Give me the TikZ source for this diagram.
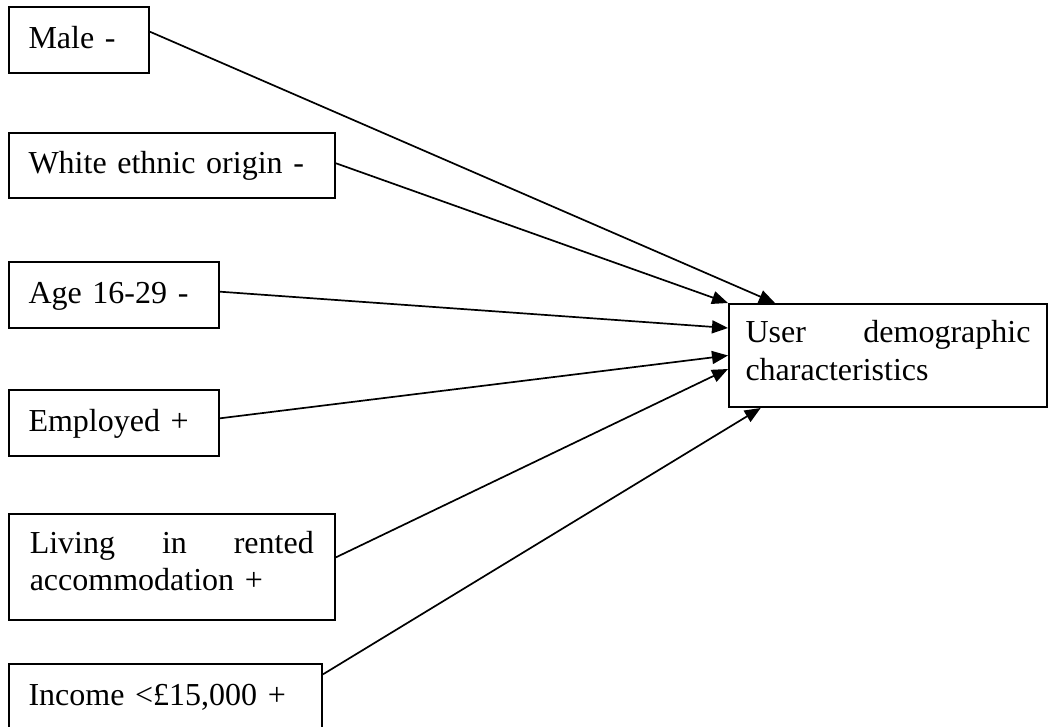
\documentclass[tikz,border=0pt]{standalone}
\usepackage{fontspec}
\setmainfont{Liberation Serif}
\usetikzlibrary{arrows.meta}
\begin{document}
\begin{tikzpicture}[x=1pt,y=-1pt,
  box/.style={draw, line width=2pt, rectangle, inner xsep=20pt, inner ysep=0pt,
    align=left, font=\fontsize{32}{37.5}\selectfont},
  oneline/.style={text height=22pt, text depth=6pt},
  conn/.style={line width=1.7pt, -{Triangle[length=16pt,width=13pt]}}]
\useasboundingbox (0,0) rectangle (1048,727);
\node[box, oneline, minimum width=140.5pt, minimum height=65.5pt, text width=100.5pt] (male) at (78.75,40.25) {Male -};
\node[box, oneline, minimum width=326.5pt, minimum height=65pt, text width=286.5pt] (white) at (171.75,165.5) {White ethnic origin -};
\node[box, oneline, minimum width=210.5pt, minimum height=66pt, text width=170.5pt] (age) at (113.75,295) {Age 16-29 -};
\node[box, oneline, minimum width=210.5pt, minimum height=66pt, text width=170.5pt] (employed) at (113.75,423) {Employed +};
\node[box, minimum width=326.5pt, minimum height=106pt, text width=284pt] (living) at (171.75,567) {Living\hfill in\hfill rented\\accommodation +\rule[-12pt]{0pt}{12pt}};
\node[box, oneline, minimum width=313.5pt, minimum height=66pt, text width=273.5pt] (income) at (165.25,697) {Income <£15,000 +};
\node[box, inner xsep=16pt, minimum width=318pt, minimum height=103pt, text width=285pt] (user) at (888,355.5) {User\hfill demographic\\characteristics\rule[-10pt]{0pt}{10pt}};
\draw[conn] ([yshift=8.5pt]male.east) -- ([xshift=-113pt]user.north);
\draw[conn] ([yshift=2.2pt]white.east) -- (user.north west);
\draw[conn] ([yshift=3.3pt]age.east) -- ([yshift=27.5pt]user.west);
\draw[conn] ([yshift=4.7pt]employed.east) -- (user.west);
\draw[conn] ([yshift=9.7pt]living.east) -- ([yshift=-13.5pt]user.west);
\draw[conn] ([yshift=22.7pt]income.east) -- ([xshift=32.7pt]user.south west);
\end{tikzpicture}
\end{document}
